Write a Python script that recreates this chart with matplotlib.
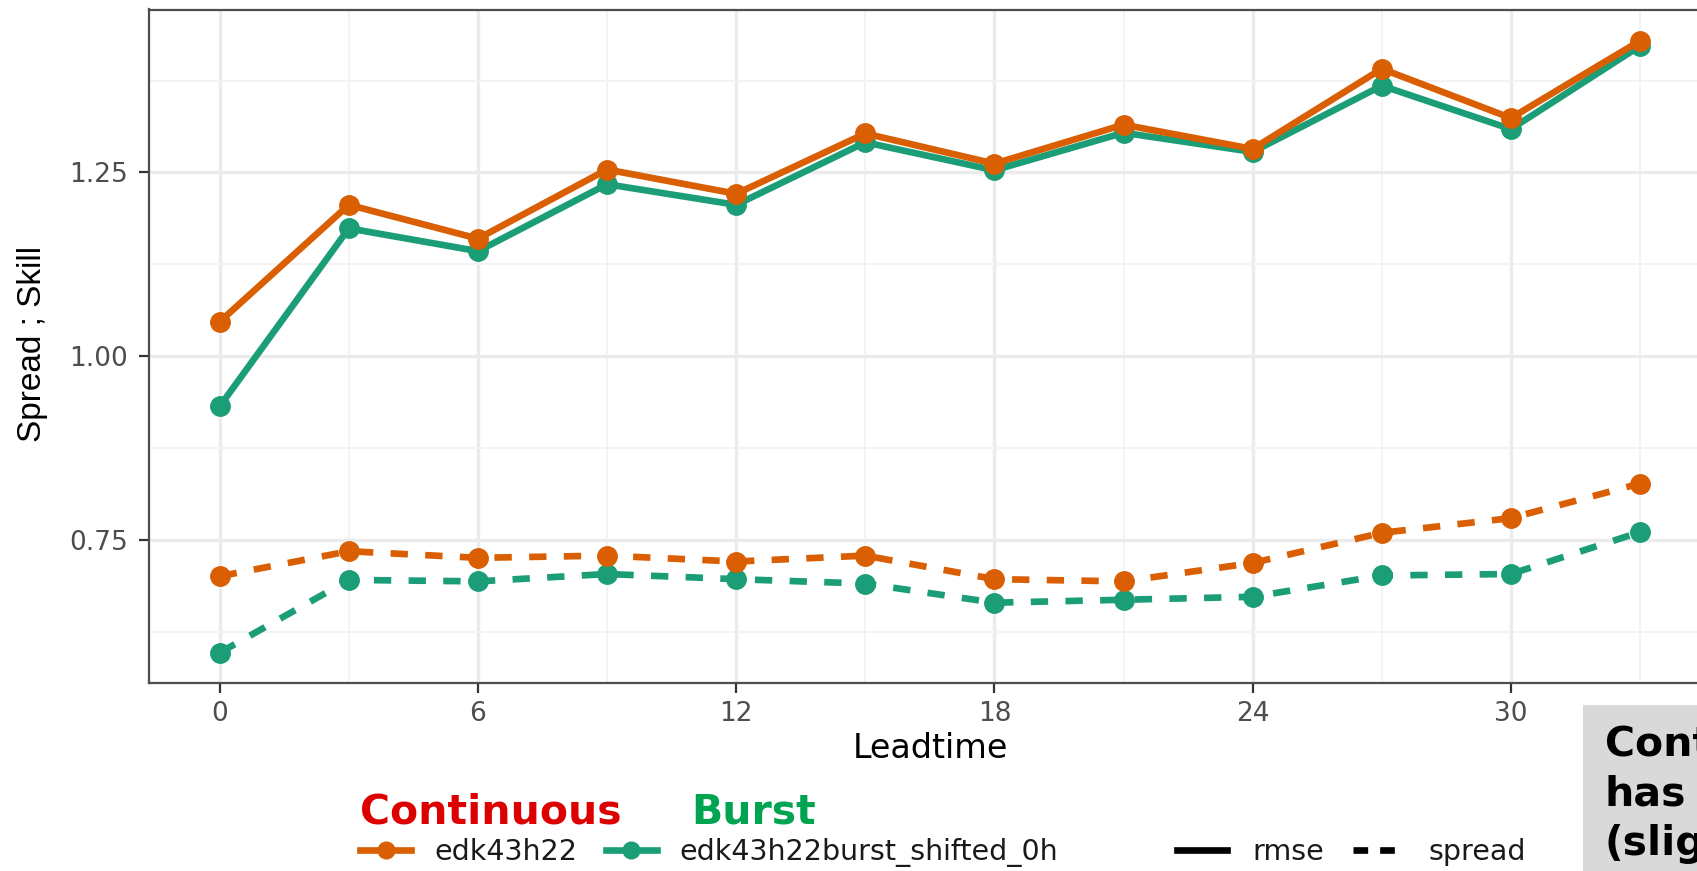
"""Spread / skill vs leadtime for continuous and burst runs."""

import matplotlib
matplotlib.use("Agg")
import matplotlib.pyplot as plt
from matplotlib.lines import Line2D
from matplotlib.patches import Rectangle

leadtime = [0, 3, 6, 9, 12, 15, 18, 21, 24, 27, 30, 33]
cont_rmse = [1.047, 1.206, 1.160, 1.254, 1.221, 1.303, 1.262, 1.315, 1.282, 1.391, 1.324, 1.429]
burst_rmse = [0.932, 1.174, 1.143, 1.234, 1.206, 1.291, 1.253, 1.304, 1.278, 1.368, 1.309, 1.422]
cont_spread = [0.701, 0.735, 0.726, 0.729, 0.721, 0.729, 0.697, 0.694, 0.719, 0.760, 0.780, 0.827]
burst_spread = [0.597, 0.696, 0.694, 0.704, 0.697, 0.691, 0.665, 0.669, 0.673, 0.702, 0.704, 0.761]

exp_names = ["edk43h22", "edk43h22burst_shifted_0h"]
metric_names = ["rmse", "spread"]
note_lines = ["Continuous", "has", "(slightly"]

ORANGE = "#D95F02"
GREEN = "#1B9E77"
W, H = 1697, 871


def fx(px):
    return px / W


def fy(py):
    return 1 - py / H


fig = plt.figure(figsize=(W / 100, H / 100), dpi=100)
ax = fig.add_axes([fx(148.7), fy(683), fx(1711) - fx(148.7), fy(9.5) - fy(683)])

LW = 4.8
MS = 14
DASH = (2.6, 2.6)

# green first so orange sits on top
ax.plot(leadtime, burst_rmse, color=GREEN, lw=LW, marker="o", ms=MS, zorder=3)
ax.plot(leadtime, burst_spread, color=GREEN, lw=LW, ls="--", dashes=DASH,
        marker="o", ms=MS, zorder=3)
ax.plot(leadtime, cont_rmse, color=ORANGE, lw=LW, marker="o", ms=MS, zorder=4)
ax.plot(leadtime, cont_spread, color=ORANGE, lw=LW, ls="--", dashes=DASH,
        marker="o", ms=MS, zorder=4)

ax.set_xlim(-1.65, 34.65)
ax.set_ylim(0.5558, 1.4716)
ax.set_xticks([0, 6, 12, 18, 24, 30])
ax.set_xticks([3, 9, 15, 21, 27, 33], minor=True)
ax.set_yticks([0.75, 1.00, 1.25])
ax.set_yticklabels(["0.75", "1.00", "1.25"])
ax.set_yticks([0.625, 0.875, 1.125, 1.375], minor=True)

ax.grid(which="major", color="#EBEBEB", lw=2.4, zorder=0)
ax.grid(which="minor", color="#F2F2F2", lw=1.3, zorder=0)
ax.set_axisbelow(True)
for sp in ax.spines.values():
    sp.set_color("#4D4D4D")
    sp.set_linewidth(1.6)

ax.tick_params(which="major", length=7, width=1.6, color="#333333",
               labelcolor="#4D4D4D", labelsize=19)
ax.tick_params(axis="x", pad=6)
ax.tick_params(axis="y", pad=8)
ax.tick_params(which="minor", length=0)

fig.text(fx(930), fy(758), "Leadtime", ha="center", va="baseline", fontsize=24)
fig.text(fx(33), fy(344), "Spread ; Skill", ha="center", va="center",
         rotation=90, fontsize=24, family="Liberation Sans")

# overlaid labels
fig.text(fx(360), fy(823), "Continuous", color="#DD0000", fontsize=29.5,
         fontweight="bold", va="baseline")
fig.text(fx(691), fy(823), "Burst", color="#00A34F", fontsize=29.5,
         fontweight="bold", va="baseline")

# legends
col_handles = [
    Line2D([], [], color=ORANGE, lw=LW, marker="o", ms=MS - 2),
    Line2D([], [], color=GREEN, lw=LW, marker="o", ms=MS - 2),
]
leg1 = fig.legend(col_handles, exp_names, loc="center left",
                  bbox_to_anchor=(fx(360), fy(852)), ncol=2, frameon=False,
                  fontsize=20.5, handlelength=1.8, handletextpad=0.8,
                  columnspacing=1.0, borderpad=0, borderaxespad=0)
for t in leg1.get_texts():
    t.set_color("#1A1A1A")

lt_handles = [
    Line2D([], [], color="black", lw=LW),
    Line2D([], [], color="black", lw=LW, ls="--", dashes=(2.2, 1.8)),
]
leg2 = fig.legend(lt_handles, metric_names, loc="center left",
                  bbox_to_anchor=(fx(1177), fy(852)), ncol=2, frameon=False,
                  fontsize=20.5, handlelength=1.75, handletextpad=0.9,
                  columnspacing=1.0, borderpad=0, borderaxespad=0)
for t in leg2.get_texts():
    t.set_color("#1A1A1A")

# grey note box in the corner (cut off at the edge, as in the slide)
fig.patches.append(Rectangle((fx(1583), 0), fx(W) - fx(1583) + 0.01, fy(705),
                             transform=fig.transFigure, facecolor="#D9D9D9",
                             edgecolor="none", zorder=5))
for i, line in enumerate(note_lines):
    fig.text(fx(1605), fy(755 + 50 * i), line, fontsize=29.5,
             fontweight="bold", va="baseline", ha="left", zorder=6)

fig.savefig("out.png", dpi=100)
